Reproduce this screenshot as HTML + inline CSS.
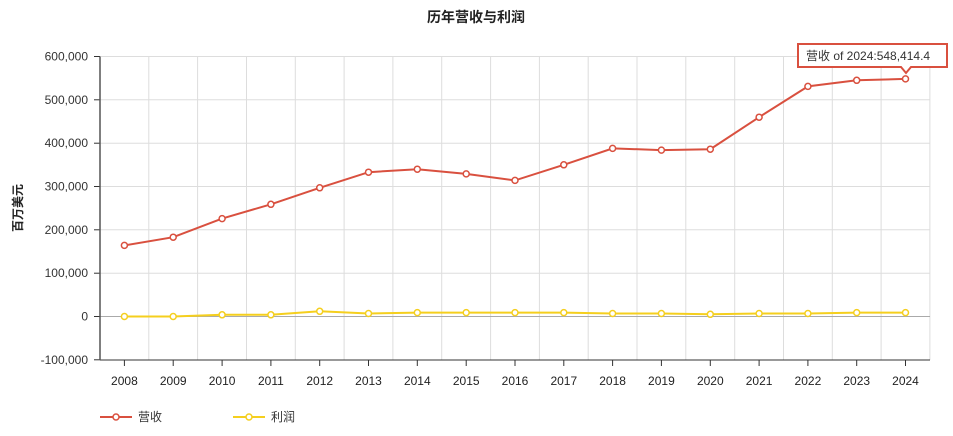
<!DOCTYPE html><html><head><meta charset="utf-8"><style>body{margin:0;background:#fff}svg{display:block}text{font-family:"Liberation Sans","Noto Sans CJK SC",sans-serif}</style></head><body>
<svg width="953" height="436" xmlns="http://www.w3.org/2000/svg">
<text x="476" y="22" text-anchor="middle" font-size="14" font-weight="bold" fill="#222">历年营收与利润</text>
<text transform="translate(22,208) rotate(-90)" text-anchor="middle" font-size="12" font-weight="bold" fill="#222">百万美元</text>
<g stroke="#ddd">
<line x1="148.8" y1="56.5" x2="148.8" y2="360"/><line x1="197.6" y1="56.5" x2="197.6" y2="360"/><line x1="246.5" y1="56.5" x2="246.5" y2="360"/><line x1="295.3" y1="56.5" x2="295.3" y2="360"/><line x1="344.1" y1="56.5" x2="344.1" y2="360"/><line x1="392.9" y1="56.5" x2="392.9" y2="360"/><line x1="441.7" y1="56.5" x2="441.7" y2="360"/><line x1="490.6" y1="56.5" x2="490.6" y2="360"/><line x1="539.4" y1="56.5" x2="539.4" y2="360"/><line x1="588.2" y1="56.5" x2="588.2" y2="360"/><line x1="637" y1="56.5" x2="637" y2="360"/><line x1="685.8" y1="56.5" x2="685.8" y2="360"/><line x1="734.7" y1="56.5" x2="734.7" y2="360"/><line x1="783.5" y1="56.5" x2="783.5" y2="360"/><line x1="832.3" y1="56.5" x2="832.3" y2="360"/><line x1="881.1" y1="56.5" x2="881.1" y2="360"/><line x1="929.9" y1="56.5" x2="929.9" y2="360"/>
<line x1="100" y1="56.5" x2="930" y2="56.5"/><line x1="100" y1="99.8" x2="930" y2="99.8"/><line x1="100" y1="143.2" x2="930" y2="143.2"/><line x1="100" y1="186.5" x2="930" y2="186.5"/><line x1="100" y1="229.8" x2="930" y2="229.8"/><line x1="100" y1="273.2" x2="930" y2="273.2"/>
</g>
<line x1="100" y1="316.5" x2="930" y2="316.5" stroke="#aaa"/>
<g stroke="#333">
<line x1="94" y1="56.5" x2="100" y2="56.5"/><line x1="94" y1="99.8" x2="100" y2="99.8"/><line x1="94" y1="143.2" x2="100" y2="143.2"/><line x1="94" y1="186.5" x2="100" y2="186.5"/><line x1="94" y1="229.8" x2="100" y2="229.8"/><line x1="94" y1="273.2" x2="100" y2="273.2"/><line x1="94" y1="316.5" x2="100" y2="316.5"/><line x1="94" y1="359.8" x2="100" y2="359.8"/>
<line x1="124.4" y1="360" x2="124.4" y2="366"/><line x1="173.2" y1="360" x2="173.2" y2="366"/><line x1="222.1" y1="360" x2="222.1" y2="366"/><line x1="270.9" y1="360" x2="270.9" y2="366"/><line x1="319.7" y1="360" x2="319.7" y2="366"/><line x1="368.5" y1="360" x2="368.5" y2="366"/><line x1="417.3" y1="360" x2="417.3" y2="366"/><line x1="466.2" y1="360" x2="466.2" y2="366"/><line x1="515" y1="360" x2="515" y2="366"/><line x1="563.8" y1="360" x2="563.8" y2="366"/><line x1="612.6" y1="360" x2="612.6" y2="366"/><line x1="661.4" y1="360" x2="661.4" y2="366"/><line x1="710.3" y1="360" x2="710.3" y2="366"/><line x1="759.1" y1="360" x2="759.1" y2="366"/><line x1="807.9" y1="360" x2="807.9" y2="366"/><line x1="856.7" y1="360" x2="856.7" y2="366"/><line x1="905.5" y1="360" x2="905.5" y2="366"/>
<line x1="100" y1="360" x2="930" y2="360"/>
</g>
<line x1="100" y1="56.5" x2="100" y2="360" stroke="#555" stroke-width="1.5"/>
<g font-size="12" fill="#333" text-anchor="end">
<text x="88" y="60.5">600,000</text><text x="88" y="103.8">500,000</text><text x="88" y="147.2">400,000</text><text x="88" y="190.5">300,000</text><text x="88" y="233.8">200,000</text><text x="88" y="277.2">100,000</text><text x="88" y="320.5">0</text><text x="88" y="363.8">-100,000</text>
</g>
<g font-size="12" fill="#222" text-anchor="middle">
<text x="124.4" y="385">2008</text><text x="173.2" y="385">2009</text><text x="222.1" y="385">2010</text><text x="270.9" y="385">2011</text><text x="319.7" y="385">2012</text><text x="368.5" y="385">2013</text><text x="417.3" y="385">2014</text><text x="466.2" y="385">2015</text><text x="515" y="385">2016</text><text x="563.8" y="385">2017</text><text x="612.6" y="385">2018</text><text x="661.4" y="385">2019</text><text x="710.3" y="385">2020</text><text x="759.1" y="385">2021</text><text x="807.9" y="385">2022</text><text x="856.7" y="385">2023</text><text x="905.5" y="385">2024</text>
</g>
<polyline fill="none" stroke="#f5cf1e" stroke-width="2" points="124.4,316.5 173.2,316.5 222.1,314.8 270.9,314.8 319.7,311.3 368.5,313.5 417.3,312.6 466.2,312.6 515,312.6 563.8,312.6 612.6,313.5 661.4,313.5 710.3,314.3 759.1,313.5 807.9,313.5 856.7,312.6 905.5,312.6"/>
<g fill="#fff" stroke="#f5cf1e" stroke-width="1.5">
<circle cx="124.4" cy="316.5" r="3"/><circle cx="173.2" cy="316.5" r="3"/><circle cx="222.1" cy="314.8" r="3"/><circle cx="270.9" cy="314.8" r="3"/><circle cx="319.7" cy="311.3" r="3"/><circle cx="368.5" cy="313.5" r="3"/><circle cx="417.3" cy="312.6" r="3"/><circle cx="466.2" cy="312.6" r="3"/><circle cx="515" cy="312.6" r="3"/><circle cx="563.8" cy="312.6" r="3"/><circle cx="612.6" cy="313.5" r="3"/><circle cx="661.4" cy="313.5" r="3"/><circle cx="710.3" cy="314.3" r="3"/><circle cx="759.1" cy="313.5" r="3"/><circle cx="807.9" cy="313.5" r="3"/><circle cx="856.7" cy="312.6" r="3"/><circle cx="905.5" cy="312.6" r="3"/>
</g>
<polyline fill="none" stroke="#d9503f" stroke-width="2" points="124.4,245.4 173.2,237.2 222.1,218.6 270.9,204.3 319.7,187.8 368.5,172.2 417.3,169.2 466.2,173.9 515,180.4 563.8,164.8 612.6,148.4 661.4,150.1 710.3,149.2 759.1,117.2 807.9,86.4 856.7,80.3 905.5,78.9"/>
<g fill="#fff" stroke="#d9503f" stroke-width="1.5">
<circle cx="124.4" cy="245.4" r="3"/><circle cx="173.2" cy="237.2" r="3"/><circle cx="222.1" cy="218.6" r="3"/><circle cx="270.9" cy="204.3" r="3"/><circle cx="319.7" cy="187.8" r="3"/><circle cx="368.5" cy="172.2" r="3"/><circle cx="417.3" cy="169.2" r="3"/><circle cx="466.2" cy="173.9" r="3"/><circle cx="515" cy="180.4" r="3"/><circle cx="563.8" cy="164.8" r="3"/><circle cx="612.6" cy="148.4" r="3"/><circle cx="661.4" cy="150.1" r="3"/><circle cx="710.3" cy="149.2" r="3"/><circle cx="759.1" cy="117.2" r="3"/><circle cx="807.9" cy="86.4" r="3"/><circle cx="856.7" cy="80.3" r="3"/><circle cx="905.5" cy="78.9" r="3"/>
</g>
<path d="M798,44 H947 V67 H911 L906,73 L901,67 H798 Z" fill="#fff" stroke="#d9503f" stroke-width="2"/>
<text x="806" y="60" font-size="12" fill="#333">营收 of 2024:548,414.4</text>
<line x1="100" y1="417" x2="132" y2="417" stroke="#d9503f" stroke-width="2"/><circle cx="116" cy="417" r="3" fill="#fff" stroke="#d9503f" stroke-width="1.5"/><text x="138" y="421" font-size="12" fill="#333">营收</text>
<line x1="233" y1="417" x2="265" y2="417" stroke="#f5cf1e" stroke-width="2"/><circle cx="249" cy="417" r="3" fill="#fff" stroke="#f5cf1e" stroke-width="1.5"/><text x="271" y="421" font-size="12" fill="#333">利润</text>
</svg></body></html>
